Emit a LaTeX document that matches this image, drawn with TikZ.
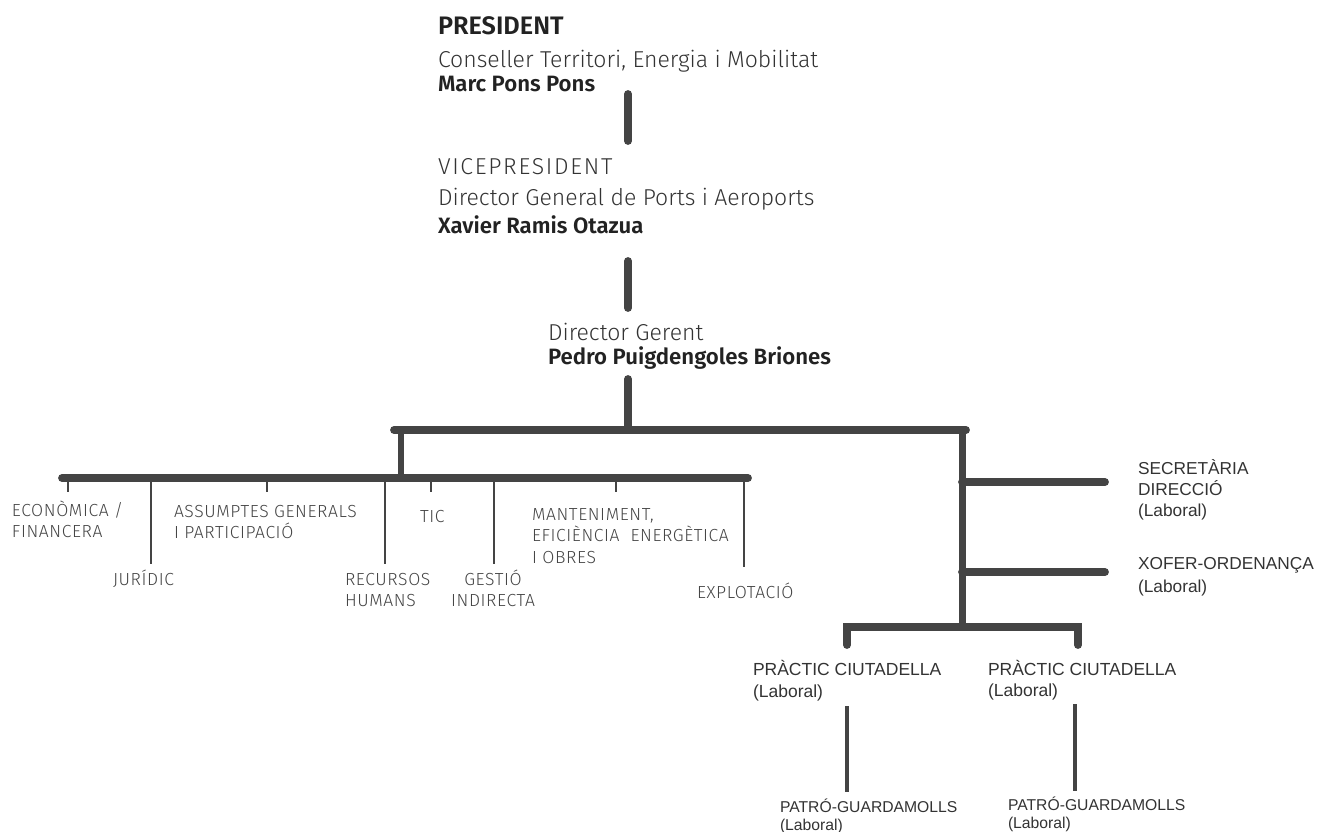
\documentclass[tikz,border=0pt]{standalone}
\usepackage{fontspec}
\newfontfamily\lightf{Fira Sans Light}
\newfontfamily\lightcapsf{Fira Sans Light}[LetterSpace=7.5]
\newfontfamily\deptf{Fira Sans Light}[LetterSpace=3.5]
\newfontfamily\boldf{Fira Sans SemiBold}
\newfontfamily\arialf{Liberation Sans}
\definecolor{linec}{HTML}{444444}
\definecolor{textc}{HTML}{333333}
\definecolor{boldc}{HTML}{222222}
\definecolor{deptc}{HTML}{444444}
\begin{document}
\begin{tikzpicture}[x=1pt,y=-1pt,
  every node/.style={inner sep=0pt, outer sep=0pt},
  lt/.style={anchor=base west, font=\lightf\fontsize{23}{27}\selectfont, text=textc},
  bdt/.style={anchor=base west, font=\boldf\fontsize{25.3}{29}\selectfont, text=boldc},
  bd/.style={anchor=base west, font=\boldf\fontsize{22.2}{26}\selectfont, text=boldc},
  dept/.style={anchor=base west, align=left, font=\deptf\fontsize{17.5}{21.5}\selectfont, text=deptc},
  lab/.style={anchor=base west, align=left, font=\arialf\fontsize{17.3}{21}\selectfont, text=textc},
  smlab/.style={anchor=base west, align=left, font=\arialf\fontsize{15.7}{18.5}\selectfont, text=textc},
  bar/.style={draw=linec, line width=7.8pt, line cap=round},
  midbar/.style={draw=linec, line width=6.5pt},
  tick/.style={draw=linec, line width=2.6pt},
  leg/.style={draw=linec, line width=3.5pt},
]
\useasboundingbox (0,0) rectangle (1317,832);

% top titles
\node[bdt] (pres) at (438,35) {PRESIDENT};
\node[lt] (cons) at (438,68) {Conseller Territori, Energia i Mobilitat};
\node[bd] (marc) at (438,92) {Marc Pons Pons};
\node[lt, font=\lightcapsf\fontsize{23}{27}\selectfont] (vice) at (438,174) {VICEPRESIDENT};
\node[lt] (dg) at (438,205) {Director General de Ports i Aeroports};
\node[bd] (xav) at (438,233) {Xavier Ramis Otazua};
\node[lt] (dger) at (548,340) {Director Gerent};
\node[bd] (pedro) at (548,364) {Pedro Puigdengoles Briones};

% departments (positions are the baseline of the last line)
\node[dept] (econ) at (12,537.5) {ECONÒMICA /\\FINANCERA};
\node[dept] (jur) at (113,585) {JURÍDIC};
\node[dept] (assump) at (174,538.5) {ASSUMPTES GENERALS\\I PARTICIPACIÓ};
\node[dept] (tic) at (420,522) {TIC};
\node[dept] (rrhh) at (345,606.5) {RECURSOS\\HUMANS};
\node[dept, anchor=base, align=center] (gest) at (493,606.5) {GESTIÓ\\INDIRECTA};
\node[dept] (mant) at (532,563) {MANTENIMENT,\\EFICIÈNCIA\ \ ENERGÈTICA\\I OBRES};
\node[dept] (expl) at (697,598) {EXPLOTACIÓ};

% right side
\node[lab] (secr) at (1138,516) {SECRETÀRIA\\DIRECCIÓ\\(Laboral)};
\node[lab, font=\arialf\fontsize{17.3}{23}\selectfont] (xof) at (1138,592) {XOFER-ORDENANÇA\\(Laboral)};
\node[lab, font=\arialf\fontsize{17.5}{22}\selectfont] (prac1) at (753,697) {PRÀCTIC CIUTADELLA\\(Laboral)};
\node[lab, font=\arialf\fontsize{17.5}{21}\selectfont] (prac2) at (988,696) {PRÀCTIC CIUTADELLA\\(Laboral)};
\node[smlab] (pat1) at (780,830.5) {PATRÓ-GUARDAMOLLS\\(Laboral)};
\node[smlab] (pat2) at (1008,828.5) {PATRÓ-GUARDAMOLLS\\(Laboral)};

% junction coordinates
\coordinate (v1a) at (628,94);   \coordinate (v1b) at (628,141);
\coordinate (v2a) at (628,261);  \coordinate (v2b) at (628,308);
\coordinate (v3a) at (628,379);  \coordinate (j0) at (628,430);
\coordinate (b1l) at (394,430);  \coordinate (b1r) at (966,430);
\coordinate (j1) at (401,430);   \coordinate (j1b) at (401,478);
\coordinate (b2l) at (62,478);   \coordinate (b2r) at (748,478);
\coordinate (jr) at (962,430);   \coordinate (jrb) at (962,627);
\coordinate (s1) at (962,482);   \coordinate (s1e) at (1105,482);
\coordinate (s2) at (962,572);   \coordinate (s2e) at (1105,572);
\coordinate (pl) at (847,627);   \coordinate (pr) at (1078,627);
\coordinate (pld) at (847,645);  \coordinate (prd) at (1078,645);

% trunk
\draw[bar] (v1a) -- (v1b);
\draw[bar] (v2a) -- (v2b);
\draw[bar] (v3a) -- (j0);
\draw[bar] (b1l) -- (b1r);
\draw[midbar] (j1) -- (j1b);
\draw[bar] (b2l) -- (b2r);

% ticks to departments
\draw[tick] (68,478) -- (68,492);
\draw[tick] (151,478) -- (151,564);
\draw[tick] (267,478) -- (267,492);
\draw[tick] (385,478) -- (385,564);
\draw[tick] (431,478) -- (431,492);
\draw[tick] (494,478) -- (494,564);
\draw[tick] (616,478) -- (616,492);
\draw[tick] (744,478) -- (744,567);

% right branch
\draw[draw=linec, line width=7pt] (jr) -- (jrb);
\draw[bar] (s1) -- (s1e);
\draw[bar] (s2) -- (s2e);
\draw[bar, line join=miter] (pld) -- (pl) -- (pr) -- (prd);
\draw[leg] (847,706) -- (847,792);
\draw[leg] (1075,704) -- (1075,791);
\end{tikzpicture}
\end{document}
